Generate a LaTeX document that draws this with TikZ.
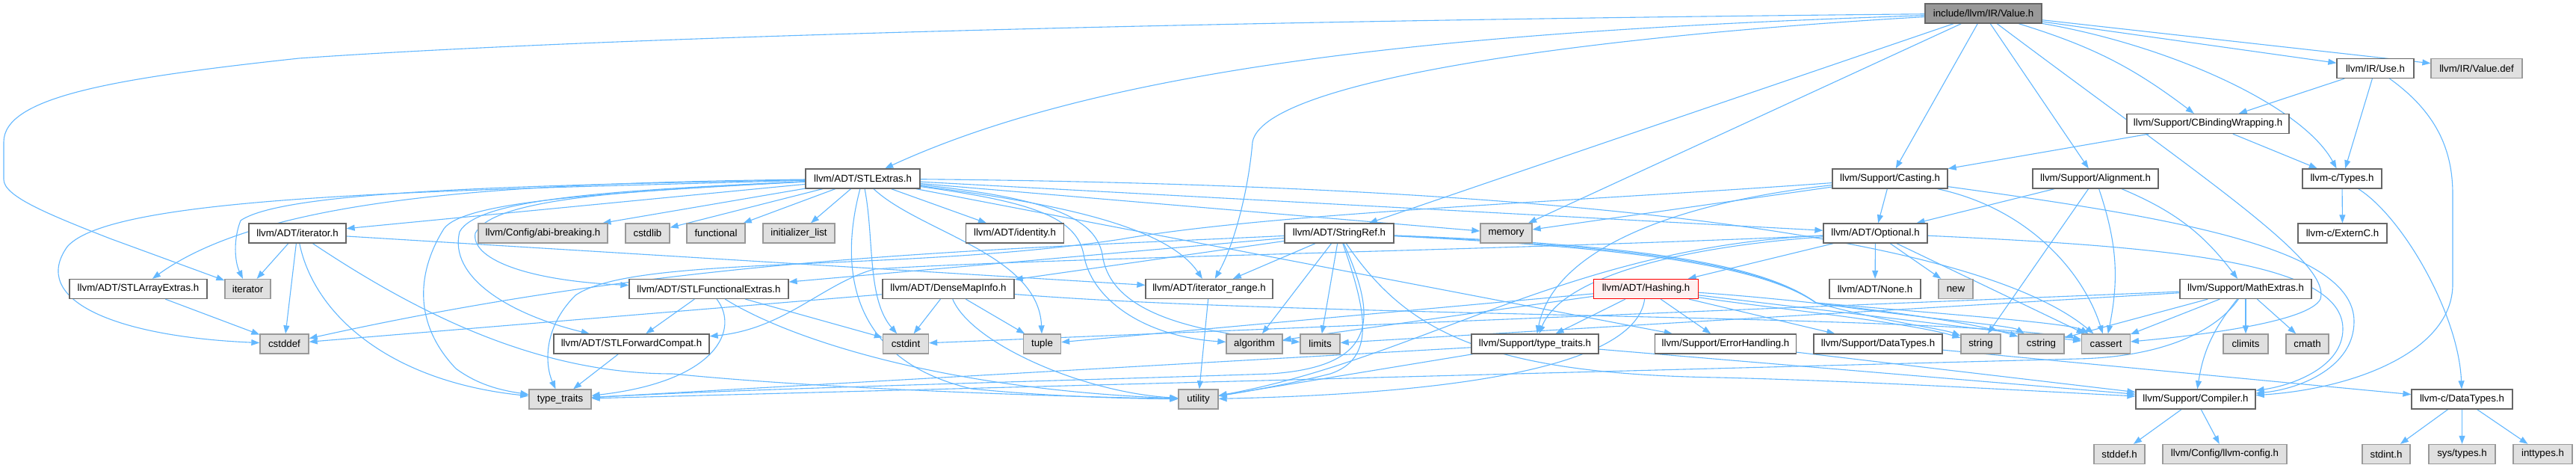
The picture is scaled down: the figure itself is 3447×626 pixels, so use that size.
\documentclass[tikz,border=0pt]{standalone}
\usepackage{fontspec}
\setmainfont{Liberation Sans}
\usetikzlibrary{arrows.meta,backgrounds}
\definecolor{edgec}{HTML}{63B8FF}
\definecolor{gfill}{HTML}{E0E0E0}
\definecolor{gdraw}{HTML}{999999}
\definecolor{wdraw}{HTML}{666666}
\definecolor{rfill}{HTML}{999999}
\definecolor{hfill}{HTML}{FFF0F0}
\definecolor{hdraw}{HTML}{FF0000}
\begin{document}
\begin{tikzpicture}[x=1pt,y=-1pt,
  base/.style={rectangle, minimum height=26pt, inner xsep=0pt, inner ysep=0pt, line width=1.3pt, font=\fontsize{13.3}{16}\selectfont, text=black},
  wn/.style={base, draw=wdraw, fill=white},
  gn/.style={base, draw=gdraw, fill=gfill},
  root/.style={base, draw=wdraw, fill=rfill},
  hnode/.style={base, draw=hdraw, fill=hfill},
  ed/.style={draw=edgec, line width=1.1pt, -{Triangle[length=11pt,width=8pt]}}]
\useasboundingbox (0,0) rectangle (3447,626);
% row 0-2
\node[root, minimum width=156pt] (V) at (2654,18) {include/llvm/IR/Value.h};
\node[wn, minimum width=103pt] (use) at (3178.5,91.5) {llvm/IR/Use.h};
\node[gn, minimum width=122pt] (vdef) at (3314,91.5) {llvm/IR/Value.def};
\node[wn, minimum width=217pt] (CB) at (2954.5,165.5) {llvm/Support/CBindingWrapping.h};
\node[wn, minimum width=153pt] (stl) at (1154.5,239) {llvm/ADT/STLExtras.h};
\node[wn, minimum width=154pt] (cast) at (2529,239) {llvm/Support/Casting.h};
\node[wn, minimum width=168pt] (align) at (2804,239) {llvm/Support/Alignment.h};
\node[wn, minimum width=106pt] (types) at (3134,239) {llvm-c/Types.h};
% row 3
\node[wn, minimum width=130pt] (iterh) at (398,312) {llvm/ADT/iterator.h};
\node[gn, minimum width=173pt] (abi) at (726.5,312) {llvm/Config/abi-breaking.h};
\node[gn, minimum width=59pt] (cstdlib) at (866.5,312) {cstdlib};
\node[gn, minimum width=78pt] (functional) at (958,312) {functional};
\node[gn, minimum width=96pt] (initl) at (1069,312) {initializer\_list};
\node[wn, minimum width=131pt] (ident) at (1358,312) {llvm/ADT/identity.h};
\node[wn, minimum width=146pt] (sref) at (1792,312) {llvm/ADT/StringRef.h};
\node[gn, minimum width=69pt] (memory) at (2015.5,312) {memory};
\node[wn, minimum width=139pt] (opt) at (2509.5,312) {llvm/ADT/Optional.h};
\node[wn, minimum width=119pt] (externc) at (3134.5,312) {llvm-c/ExternC.h};
% row 4
\node[wn, minimum width=184pt] (arr) at (185,386.5) {llvm/ADT/STLArrayExtras.h};
\node[gn, minimum width=61pt] (iterstd) at (331.5,386.5) {iterator};
\node[wn, minimum width=213pt] (sfe) at (948.5,386.5) {llvm/ADT/STLFunctionalExtras.h};
\node[wn, minimum width=176pt] (dmi) at (1269,386.5) {llvm/ADT/DenseMapInfo.h};
\node[wn, minimum width=170pt] (irange) at (1618,386.5) {llvm/ADT/iterator\_range.h};
\node[hnode, minimum width=140pt] (hash) at (2202.5,386.5) {llvm/ADT/Hashing.h};
\node[wn, minimum width=122pt] (none) at (2509,386.5) {llvm/ADT/None.h};
\node[gn, minimum width=46pt] (new) at (2617,386.5) {new};
\node[wn, minimum width=176pt] (math) at (3005,386.5) {llvm/Support/MathExtras.h};
% row 5
\node[gn, minimum width=65pt] (cstddef) at (380.5,460) {cstddef};
\node[wn, minimum width=208pt] (sfc) at (845,460) {llvm/ADT/STLForwardCompat.h};
\node[gn, minimum width=61pt] (cstdint) at (1212,460) {cstdint};
\node[gn, minimum width=50pt] (tuple) at (1394.5,460) {tuple};
\node[gn, minimum width=75pt] (algorithm) at (1678.5,460) {algorithm};
\node[gn, minimum width=53pt] (limits) at (1766.5,460) {limits};
\node[wn, minimum width=170pt] (stt) at (2054,460) {llvm/Support/type\_traits.h};
\node[wn, minimum width=189pt] (err) at (2309,460) {llvm/Support/ErrorHandling.h};
\node[wn, minimum width=172pt] (sdt) at (2513,460) {llvm/Support/DataTypes.h};
\node[gn, minimum width=53pt] (string) at (2650.5,460) {string};
\node[gn, minimum width=61pt] (cstring) at (2731.5,460) {cstring};
\node[gn, minimum width=64.5pt] (cassert) at (2818,460) {cassert};
\node[gn, minimum width=60pt] (climits) at (3005,460) {climits};
\node[gn, minimum width=57pt] (cmath) at (3087.5,460) {cmath};
% row 6
\node[gn, minimum width=83pt] (tt) at (749.5,534) {type\_traits};
\node[gn, minimum width=53pt] (utility) at (1603.5,534) {utility};
\node[wn, minimum width=160pt] (comp) at (2938,534) {llvm/Support/Compiler.h};
\node[wn, minimum width=135pt] (cdt) at (3294.5,534) {llvm-c/DataTypes.h};
% row 7
\node[gn, minimum width=68pt] (stddef) at (2836,607.5) {stddef.h};
\node[gn, minimum width=166pt] (llvmconfig) at (2977,607.5) {llvm/Config/llvm-config.h};
\node[gn, minimum width=64pt] (stdinth) at (3193,607.5) {stdint.h};
\node[gn, minimum width=89pt] (systypes) at (3294.5,607.5) {sys/types.h};
\node[gn, minimum width=79pt] (inttypes) at (3402.5,607.5) {inttypes.h};

\begin{scope}[on background layer]
\fill[white] (0,0) rectangle (3447,626);
% Value.h
\draw[ed] (V) .. controls (1600,28) and (800,50) .. (400,78) .. controls (150,105) and (5,130) .. (5,190) -- (5,240) .. controls (5,262) and (60,285) .. (147,319) -- (iterstd);
\draw[ed] (V) .. controls (2000,40) and (1500,80) .. (stl);
\draw[ed] (V) -- (sref);
\draw[ed] (V) -- (memory);
\draw[ed] (V) .. controls (2100,50) and (1690,110) .. (1676,190) .. controls (1670,260) and (1650,330) .. (irange);
\draw[ed] (V) -- (cast);
\draw[ed] (V) -- (align);
\draw[ed] (V) to[bend left=10] (CB);
\draw[ed] (V) .. controls (2900,60) and (3080,140) .. (types);
\draw[ed] (V) -- (use);
\draw[ed] (V) -- (vdef);
\draw[ed] (V) .. controls (2950,240) and (3120,350) .. (3105,400) .. controls (3090,430) and (2950,448) .. (cassert);
% Use.h
\draw[ed] (use) -- (CB);
\draw[ed] (use) -- (types);
\draw[ed] (use) .. controls (3260,150) and (3282,200) .. (3282,260) -- (3282,380) .. controls (3282,470) and (3150,520) .. (comp);
% CBindingWrapping
\draw[ed] (CB) -- (cast);
\draw[ed] (CB) -- (types);
% Types
\draw[ed] (types) -- (externc);
\draw[ed] (types) .. controls (3215,290) and (3290,420) .. (cdt);
% leaves
\draw[ed] (cdt) -- (stdinth);
\draw[ed] (cdt) -- (systypes);
\draw[ed] (cdt) -- (inttypes);
\draw[ed] (comp) -- (stddef);
\draw[ed] (comp) -- (llvmconfig);
\draw[ed] (sdt) -- (cdt);
\draw[ed] (err) -- (comp);
\draw[ed] (stt) -- (comp);
\draw[ed] (stt) -- (tt);
\draw[ed] (stt) -- (utility);
% MathExtras
\draw[ed] (math) -- (cstdint);
\draw[ed] (math) -- (limits);
\draw[ed] (math) .. controls (2960,450) and (2880,478) .. (2780,480) -- (tt);
\draw[ed] (math) to[bend right=15] (comp);
\draw[ed] (math) -- (cassert);
\draw[ed] (math) -- (cstring);
\draw[ed] (math) -- (climits);
\draw[ed] (math) -- (cmath);
% Alignment
\draw[ed] (align) -- (opt);
\draw[ed] (align) -- (string);
\draw[ed] (align) to[bend left=15] (cassert);
\draw[ed] (align) to[bend left=15] (math);
% Casting
\draw[ed] (cast) -- (opt);
\draw[ed] (cast) -- (memory);
\draw[ed] (cast) .. controls (2250,270) and (2080,330) .. (stt);
\draw[ed] (cast) .. controls (2720,280) and (2790,370) .. (cassert);
\draw[ed] (cast) .. controls (2900,290) and (3150,330) .. (3150,430) .. controls (3150,490) and (3080,520) .. (comp);
\draw[ed] (cast) .. controls (2100,270) and (1700,285) .. (1500,320) .. controls (1200,365) and (850,340) .. (770,395) .. controls (725,440) and (730,490) .. (tt);
% Optional
\draw[ed] (opt) -- (hash);
\draw[ed] (opt) -- (none);
\draw[ed] (opt) -- (new);
\draw[ed] (opt) .. controls (2250,330) and (2090,370) .. (stt);
\draw[ed] (opt) .. controls (2100,330) and (1900,480) .. (utility);
\draw[ed] (opt) .. controls (2000,335) and (1400,345) .. (1170,360) .. controls (1100,380) and (1050,440) .. (sfc);
\draw[ed] (opt) -- (cassert);
\draw[ed] (opt) .. controls (2900,330) and (3135,350) .. (3135,440) .. controls (3135,490) and (3070,515) .. (comp);
% Hashing
\draw[ed] (hash) -- (stt);
\draw[ed] (hash) -- (err);
\draw[ed] (hash) -- (sdt);
\draw[ed] (hash) .. controls (2190,480) and (2000,525) .. (utility);
\draw[ed] (hash) -- (algorithm);
\draw[ed] (hash) -- (tuple);
\draw[ed] (hash) -- (cassert);
\draw[ed] (hash) .. controls (2400,400) and (2620,425) .. (cstring);
\draw[ed] (hash) .. controls (2350,410) and (2550,430) .. (string);
% StringRef
\draw[ed] (sref) -- (dmi);
\draw[ed] (sref) -- (sfe);
\draw[ed] (sref) -- (irange);
\draw[ed] (sref) -- (algorithm);
\draw[ed] (sref) -- (limits);
\draw[ed] (sref) .. controls (1300,335) and (900,345) .. (cstddef);
\draw[ed] (sref) .. controls (2150,330) and (2350,350) .. (2430,405) .. controls (2520,430) and (2600,440) .. (string);
\draw[ed] (sref) .. controls (2150,328) and (2350,348) .. (2430,405) .. controls (2560,425) and (2690,435) .. (cstring);
\draw[ed] (sref) .. controls (2150,326) and (2350,346) .. (2430,405) .. controls (2600,420) and (2770,432) .. (cassert);
\draw[ed] (sref) .. controls (1880,440) and (1980,500) .. (2300,505) .. controls (2500,510) and (2700,522) .. (comp);
\draw[ed] (sref) .. controls (1830,420) and (1840,480) .. (1780,500) .. controls (1720,515) and (1660,525) .. (utility);
\draw[ed] (sref) .. controls (1840,420) and (1850,490) .. (1700,500) .. controls (1400,510) and (1000,520) .. (tt);
% DenseMapInfo
\draw[ed] (dmi) -- (cstddef);
\draw[ed] (dmi) -- (cstdint);
\draw[ed] (dmi) -- (tuple);
\draw[ed] (dmi) .. controls (1300,460) and (1450,525) .. (utility);
\draw[ed] (dmi) .. controls (1750,425) and (2600,420) .. (cassert);
% STLFunctionalExtras etc.
\draw[ed] (sfe) -- (sfc);
\draw[ed] (sfe) -- (cstdint);
\draw[ed] (sfe) .. controls (990,440) and (960,510) .. (tt);
\draw[ed] (sfe) .. controls (1050,450) and (1250,520) .. (utility);
\draw[ed] (sfc) -- (tt);
\draw[ed] (arr) -- (cstddef);
\draw[ed] (irange) -- (utility);
% iterator.h
\draw[ed] (iterh) -- (iterstd);
\draw[ed] (iterh) -- (cstddef);
\draw[ed] (iterh) .. controls (420,420) and (520,510) .. (tt);
\draw[ed] (iterh) .. controls (560,420) and (720,500) .. (900,500) .. controls (1100,520) and (1400,530) .. (utility);
\draw[ed] (iterh) -- (irange);
% STLExtras
\draw[ed] (stl) -- (iterh);
\draw[ed] (stl) -- (abi);
\draw[ed] (stl) -- (cstdlib);
\draw[ed] (stl) -- (functional);
\draw[ed] (stl) -- (initl);
\draw[ed] (stl) -- (ident);
\draw[ed] (stl) .. controls (700,245) and (360,260) .. (arr);
\draw[ed] (stl) .. controls (700,248) and (380,255) .. (322,295) .. controls (312,320) and (314,350) .. (iterstd);
\draw[ed] (stl) .. controls (600,255) and (150,260) .. (90,330) .. controls (40,400) and (150,450) .. (cstddef);
\draw[ed] (stl) .. controls (800,258) and (620,270) .. (594,306) .. controls (560,360) and (550,430) .. (610,493) .. controls (640,515) and (670,522) .. (tt);
\draw[ed] (stl) .. controls (820,255) and (640,265) .. (615,310) .. controls (600,370) and (680,420) .. (sfc);
\draw[ed] (stl) .. controls (840,255) and (660,265) .. (636,312) .. controls (630,345) and (700,375) .. (sfe);
\draw[ed] (stl) .. controls (1400,270) and (1560,300) .. (irange);
\draw[ed] (stl) .. controls (1230,310) and (1390,340) .. (tuple);
\draw[ed] (stl) .. controls (1170,320) and (1160,400) .. (cstdint);
\draw[ed] (stl) .. controls (1125,350) and (1130,480) .. (1300,520) .. controls (1400,530) and (1500,533) .. (utility);
\draw[ed] (stl) .. controls (1380,270) and (1440,290) .. (1450,340) .. controls (1460,400) and (1530,450) .. (algorithm);
\draw[ed] (stl) .. controls (1400,265) and (1465,290) .. (1475,340) .. controls (1485,420) and (1600,445) .. (limits);
\draw[ed] (stl) -- (opt);
\draw[ed] (stl) -- (memory);
\draw[ed] (stl) -- (err);
\draw[ed] (stl) .. controls (1800,245) and (2600,280) .. (cassert);
\end{scope}
\end{tikzpicture}
\end{document}
